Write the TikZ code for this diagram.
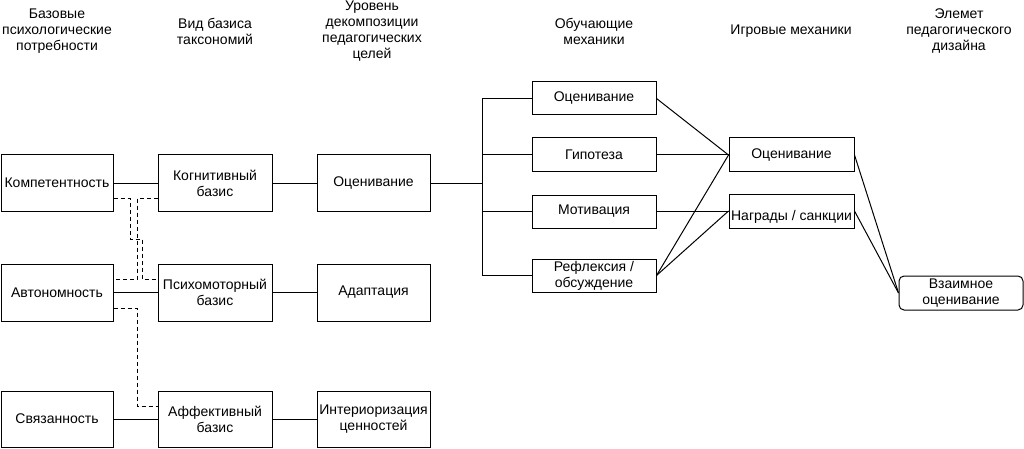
\documentclass[tikz,border=0pt]{standalone}
\usepackage{fontspec}
\setmainfont{Liberation Sans}
\begin{document}
\begin{tikzpicture}[x=1pt,y=-1pt,
  every node/.style={font=\fontsize{14}{16}\selectfont},
  box/.style={draw,line width=1pt,align=center,inner sep=0pt,minimum height=56pt},
  cbox/.style={box,minimum width=112pt},
  mbox/.style={box,minimum width=124pt,minimum height=34pt},
  ebox/.style={box,minimum width=124pt,minimum height=34pt,rounded corners=5pt},
  hdr/.style={align=center,inner sep=0pt},
  lnk/.style={line width=1pt},
  dsh/.style={line width=1pt,dash pattern=on 4pt off 3pt}]
\useasboundingbox (0,0) rectangle (1024,449);
% headers
\node[hdr] (h1) at (57,31) {Базовые\\психологические\\потребности};
\node[hdr] (h2) at (215,31) {Вид базиса\\таксономий};
\node[hdr] (h3) at (372,31) {Уровень\\декомпозиции\\педагогических\\целей};
\node[hdr] (h4) at (594,31) {Обучающие\\механики};
\node[hdr] (h5) at (791,31) {Игровые механики};
\node[hdr] (h6) at (959,31) {Элемет\\педагогического\\дизайна};
% column 1
\node[cbox] (k1) at (57,183) {Компетентность};
\node[cbox,minimum height=57pt] (k2) at (57,292.5) {Автономность};
\node[cbox] (k3) at (57,419) {Связанность};
% column 2
\node[box,minimum width=114pt] (b1) at (215,183) {Когнитивный\\базис};
\node[box,minimum width=114pt,minimum height=57pt] (b2) at (215,292.5) {Психомоторный\\базис};
\node[box,minimum width=114pt] (b3) at (215,419) {Аффективный\\базис};
% column 3
\node[box,minimum width=113pt] (g1) at (373.5,183) {Оценивание};
\node[box,minimum width=113pt,minimum height=57pt] (g2) at (373.5,292.5) {Адаптация};
\node[box,minimum width=113pt] (g3) at (373.5,419) {Интериоризация\\ценностей};
% column 4
\node[mbox,minimum height=33pt] (m1) at (594,98.5) {Оценивание};
\node[mbox] (m2) at (594,155) {Гипотеза};
\node[mbox,minimum height=33pt] (m3) at (594,211.5) {Мотивация};
\node[mbox,minimum height=33pt] (m4) at (594,275.5) {Рефлексия /\\обсуждение};
% column 5
\node[mbox,minimum width=125pt] (p1) at (791.5,155) {Оценивание};
\node[mbox,minimum width=125pt] (p2) at (791.5,211) {};
\node[hdr] (p2t) at ([yshift=-6pt]p2.center) {Награды / санкции};
% column 6
\node[ebox] (e1) at (961,293) {Взаимное\\оценивание};
% solid links
\draw[lnk] (k1) -- (b1);
\draw[lnk] (k2) -- (b2);
\draw[lnk] (k3) -- (b3);
\draw[lnk] (b1) -- (g1);
\draw[lnk] (b2) -- (g2);
\draw[lnk] (b3) -- (g3);
\coordinate (br) at (482,183);
\draw[lnk] (g1.east) -- (br);
\draw[lnk] (m1.west) -- (m1.west -| br) -- (m4.west -| br) -- (m4.west);
\draw[lnk] (m2.west) -- (m2.west -| br);
\draw[lnk] (m3.west) -- (m3.west -| br);
\draw[lnk] (m1.east) -- (p1.west);
\draw[lnk] (m2.east) -- (p1.west);
\draw[lnk] (m3.east) -- (m3.east -| p2.west);
\draw[lnk] (m4.east) -- (p1.west);
\draw[lnk] (m4.east) -- (p2.west);
\draw[lnk] (p1.east) -- (e1.west);
\draw[lnk] (p2.east) -- (e1.west);
% dashed links
\draw[dsh] (k1.east |- 0,198) -- (130,198) -- (130,239) -- (142,239) -- (142,279) -- (b2.west |- 0,279);
\draw[dsh] (b1.west |- 0,198) -- (137,198) -- (137,279) -- (k2.east |- 0,279);
\draw[dsh] (k2.east |- 0,308) -- (137,308) -- (137,406) -- (b3.west |- 0,406);
\end{tikzpicture}
\end{document}
